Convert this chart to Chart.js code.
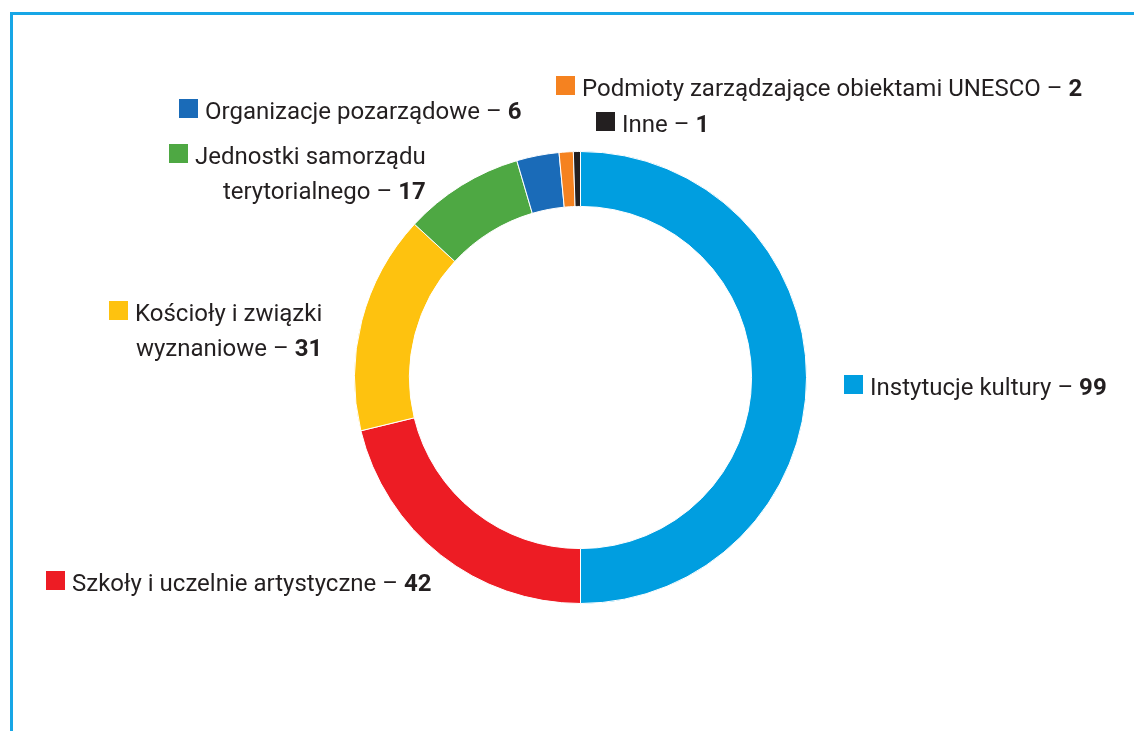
<!DOCTYPE html>
<html>
<head>
<meta charset="utf-8">
<script src="https://cdn.jsdelivr.net/npm/chart.js@4.4.1/dist/chart.umd.min.js"></script>
<style>
  html, body { margin: 0; padding: 0; background: #fff; overflow: hidden; }
  #wrap { position: relative; width: 1134px; height: 731px; }
  #frame { position: absolute; left: 10px; top: 12px; width: 2000px; height: 2000px;
           border-top: 3px solid #17a6e6; border-left: 3px solid #17a6e6; box-sizing: border-box; }
  canvas { position: absolute; left: 0; top: 0; }
</style>
</head>
<body>
<div id="wrap">
  <div id="frame"></div>
  <canvas id="c" width="1134" height="731"></canvas>
</div>
<script>
const categories = [
  "Instytucje kultury",
  "Szkoły i uczelnie artystyczne",
  "Kościoły i związki wyznaniowe",
  "Jednostki samorządu terytorialnego",
  "Organizacje pozarządowe",
  "Podmioty zarządzające obiektami UNESCO",
  "Inne"
];
const values = [99, 42, 31, 17, 6, 2, 1];
const colors = ["#009ee0", "#ed1c24", "#fec20f", "#4ea843", "#1a6bb8", "#f58220", "#231f20"];
// label text lines (last line gets the value appended)
const labelLines = [
  ["Instytucje kultury"],
  ["Szkoły i uczelnie artystyczne"],
  ["Kościoły i związki", "wyznaniowe"],
  ["Jednostki samorządu", "terytorialnego"],
  ["Organizacje pozarządowe"],
  ["Podmioty zarządzające obiektami UNESCO"],
  ["Inne"]
];

// layout of the external labels (square left x, first line baseline y)
const labelLayout = [
  { x: 844, y: 395 },
  { x: 46,  y: 591 },
  { x: 109, y: 321 },
  { x: 169, y: 164 },
  { x: 179, y: 119 },
  { x: 556, y: 96 },
  { x: 596, y: 132 }
];

const FONT = '"Roboto", "Liberation Sans", sans-serif';
const SIZE = 24;
const LINE_H = 34.5;
const SQ = 19;
const GAP = 7;

const labelPlugin = {
  id: 'extLabels',
  afterDraw(chart) {
    const ctx = chart.ctx;
    ctx.save();
    ctx.textBaseline = 'alphabetic';
    const data = chart.data.datasets[0].data;
    const bg = chart.data.datasets[0].backgroundColor;
    data.forEach((v, i) => {
      const L = labelLayout[i];
      const lines = labelLines[i];
      const tx = L.x + SQ + GAP;
      ctx.font = SIZE + 'px ' + FONT;
      const w = lines.map((ln, k) => {
        let wd = ctx.measureText(ln + (k === lines.length - 1 ? ' – ' : '')).width;
        if (k === lines.length - 1) {
          ctx.font = 'bold ' + SIZE + 'px ' + FONT;
          wd += ctx.measureText(String(v)).width;
          ctx.font = SIZE + 'px ' + FONT;
        }
        return wd;
      });
      const maxW = Math.max(...w);
      ctx.fillStyle = bg[i];
      ctx.fillRect(L.x, L.y - 20, SQ, SQ);
      lines.forEach((ln, k) => {
        const y = Math.round(L.y + k * LINE_H);
        let x = tx + (lines.length > 1 ? (maxW - w[k]) : 0);
        ctx.fillStyle = '#231f20';
        ctx.font = SIZE + 'px ' + FONT;
        const isLast = k === lines.length - 1;
        const txt = ln + (isLast ? ' – ' : '');
        ctx.fillText(txt, x, y);
        if (isLast) {
          x += ctx.measureText(txt).width;
          ctx.font = 'bold ' + SIZE + 'px ' + FONT;
          ctx.fillText(String(v), x, y);
        }
      });
    });
    ctx.restore();
  }
};

new Chart(document.getElementById('c'), {
  type: 'doughnut',
  data: {
    labels: categories,
    datasets: [{
      data: values,
      backgroundColor: colors,
      borderColor: '#ffffff',
      borderWidth: 1
    }]
  },
  options: {
    responsive: false,
    animation: false,
    cutout: '75.7%',
    layout: { padding: { top: 151, bottom: 127, left: 100, right: 73 } },
    plugins: { legend: { display: false }, tooltip: { enabled: false } }
  },
  plugins: [labelPlugin]
});
</script>
</body>
</html>
